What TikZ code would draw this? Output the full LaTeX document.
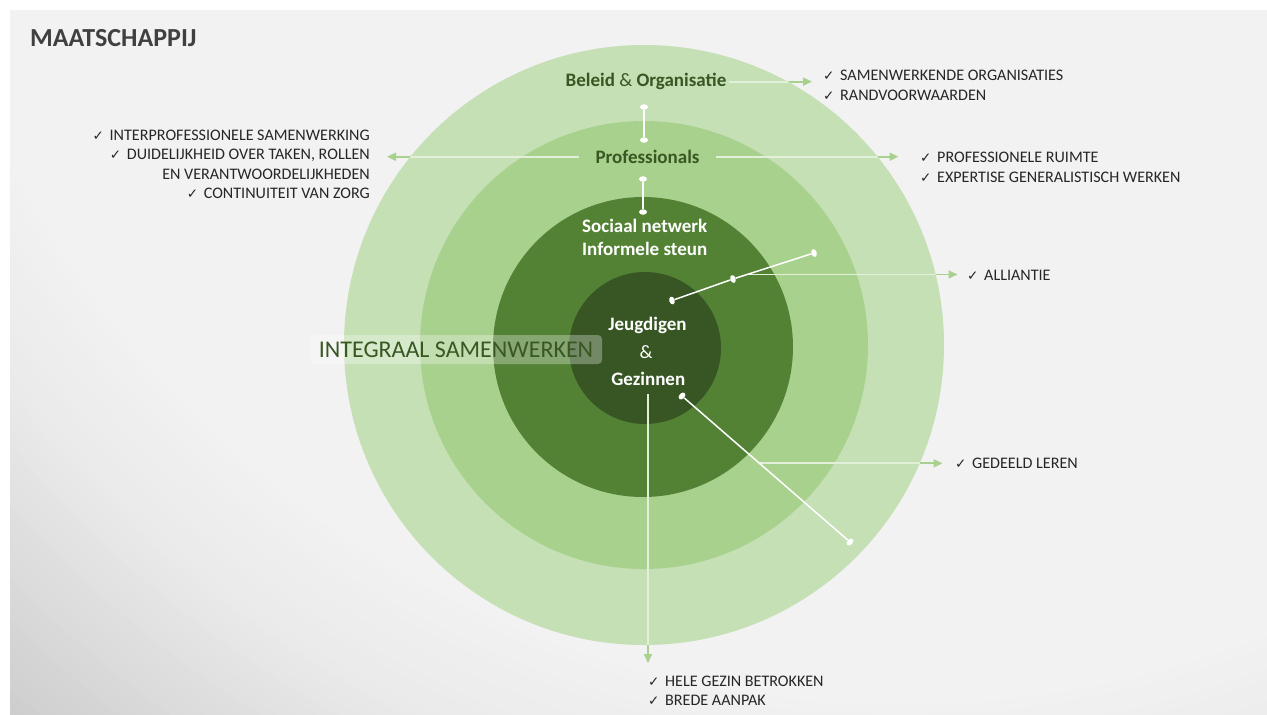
\documentclass[tikz,border=0pt]{standalone}
\usepackage{fontspec}
\setmainfont{Carlito}
\newfontfamily\symfont{DejaVu Sans}
\usetikzlibrary{arrows.meta,shapes.geometric}
\definecolor{bgA}{HTML}{F2F2F2}
\definecolor{bgB}{HTML}{EAEAEA}
\definecolor{bgC}{HTML}{CECECE}
\definecolor{ringA}{HTML}{C5E0B4}
\definecolor{ringB}{HTML}{A9D18E}
\definecolor{ringC}{HTML}{548235}
\definecolor{ringD}{HTML}{375623}
\definecolor{labgreen}{HTML}{385723}
\definecolor{titlegray}{HTML}{404040}
\definecolor{listtext}{HTML}{262626}
\definecolor{argreen}{HTML}{A9D18E}
\definecolor{arpale}{HTML}{E2F0D9}
\newcommand{\chk}{\makebox[17pt][l]{\symfont\bfseries\fontsize{13.5}{14}\selectfont ✓}}
\tikzset{
  listline/.style={inner sep=0pt, text=listtext, font=\fontsize{16.1}{19.5}\selectfont},
  lw/.style={listline, anchor=base west},
  le/.style={listline, anchor=base east},
  ringlabel/.style={inner sep=2pt, anchor=base, text=labgreen, font=\bfseries\fontsize{19}{23}\selectfont},
  corelabel/.style={inner sep=2pt, anchor=base, text=white, font=\bfseries\fontsize{19}{23}\selectfont},
  arr/.style={draw=argreen, line width=1.8pt, -{Triangle[length=9pt,width=8pt]}},
  arrin/.style={draw=arpale, line width=1.8pt},
  wline/.style={draw=white, line width=1.5pt},
  wdot/.style={ellipse, fill=white, inner sep=0pt, minimum width=8pt, minimum height=5.5pt},
}
\begin{document}
\begin{tikzpicture}[x=1pt,y=-1pt]
\useasboundingbox (0,0) rectangle (1267,715);
\fill[white] (0,0) rectangle (1267,715);
% slide background with darker bottom-left corner
\begin{scope}
  \clip (10,10) rectangle (1267,714);
  \fill[bgC] (10,10) rectangle (1267,714);
  \foreach \r in {1350,1340,...,1130} {
    \pgfmathsetmacro\p{(\r-1125)/225*100}
    \fill[bgC!\p!bgB] (900,-300) circle[radius=\r];
  }
  \foreach \r in {1125,1115,...,1005} {
    \pgfmathsetmacro\p{(\r-1000)/125*100}
    \fill[bgB!\p!bgA] (900,-300) circle[radius=\r];
  }
  \fill[bgA] (900,-300) circle[radius=1000];
\end{scope}
% rings
\fill[ringA] (644,345) circle[radius=300];
\fill[ringB] (644,345) circle[radius=224];
\fill[ringC] (643,347) circle[radius=150];
\fill[ringD] (645,348) circle[radius=76];
% integraal samenwerken
\node[fill=white, fill opacity=0.3, text opacity=1, rounded corners=4pt, text=labgreen,
      font=\fontsize{24}{28}\selectfont, minimum width=292pt, minimum height=29pt, inner sep=0pt]
      (int) at (456,349.5) {INTEGRAAL SAMENWERKEN};
% title
\node[anchor=base west, inner sep=0pt, text=titlegray, font=\bfseries\fontsize{26}{30}\selectfont]
      (title) at (30,46.7) {MAATSCHAPPIJ};
% ring labels
\node[ringlabel, inner xsep=2.5pt] (bel) at (646,86.7) {Beleid {\mdseries\&} Organisatie};
\node[ringlabel, inner xsep=16pt] (pro) at (647.5,163.3) {Professionals};
\node[corelabel] (soc) at (644.7,232) {Sociaal netwerk};
\node[corelabel] (inf) at (644.7,255.7) {Informele steun};
\node[corelabel] (jeu) at (647.5,330.7) {Jeugdigen};
\node[corelabel, font=\fontsize{19}{23}\selectfont] (amp) at (646,358) {\&};
\node[corelabel] (gez) at (648.3,385) {Gezinnen};
% check lists
\node[le] (lp1) at (370,140) {\chk INTERPROFESSIONELE SAMENWERKING};
\node[le] (lp2) at (370,159.5) {\chk DUIDELIJKHEID OVER TAKEN, ROLLEN};
\node[le] (lp3) at (370,179) {EN VERANTWOORDELIJKHEDEN};
\node[le] (lp4) at (370,198.5) {\chk CONTINUITEIT VAN ZORG};
\node[lw] (bo1) at (823,80.5) {\chk SAMENWERKENDE ORGANISATIES};
\node[lw] (bo2) at (823,100) {\chk RANDVOORWAARDEN};
\node[lw] (pr1) at (920,162.7) {\chk PROFESSIONELE RUIMTE};
\node[lw] (pr2) at (920,182) {\chk EXPERTISE GENERALISTISCH WERKEN};
\node[lw] (al) at (967,280.5) {\chk ALLIANTIE};
\node[lw] (gl) at (955,468) {\chk GEDEELD LEREN};
\node[lw] (hg1) at (648,686.5) {\chk HELE GEZIN BETROKKEN};
\node[lw] (hg2) at (648,705.7) {\chk BREDE AANPAK};
% arrow ends
\coordinate (tB) at (812,83.3);
\coordinate (tPL) at (387,158);
\coordinate (tPR) at (898.5,156.7);
\coordinate (sAl) at (748,274.5);
\coordinate (tAl) at (957.5,274.5);
\coordinate (sGl) at (760,463.3);
\coordinate (tGl) at (942.5,463.3);
\coordinate (sHg) at (648,394);
\coordinate (tHg) at (648,663);
% arrows
\draw[arr] (bel.east) -- (bel.east -| tB);
\draw[arr] (pro.west) -- (pro.west -| tPL);
\draw[arr] (pro.east) -- (pro.east -| tPR);
\draw[arr] (sAl) -- (tAl);
\draw[arr] (sGl) -- (tGl);
\draw[arr] (sHg) -- (tHg);
\begin{scope}
  \clip (644,345) circle[radius=300];
  \draw[arrin] (bel.east) -- (bel.east -| tB);
  \draw[arrin] (pro.west) -- (pro.west -| tPL);
  \draw[arrin] (pro.east) -- (pro.east -| tPR);
  \draw[arrin] (sAl) -- (tAl);
  \draw[arrin] (sGl) -- (tGl);
  \draw[arrin] (sHg) -- (tHg);
\end{scope}
% white dot connectors
\node[wdot] (a1) at (644,107) {};
\node[wdot] (a2) at (644,140) {};
\node[wdot] (b1) at (643,179) {};
\node[wdot] (b2) at (643,212) {};
\node[wdot, rotate=108] (c1) at (672,300.5) {};
\node[wdot, rotate=108] (c2) at (733,279) {};
\node[wdot, rotate=108] (c3) at (814,253) {};
\node[wdot, rotate=49] (d1) at (682,396) {};
\node[wdot, rotate=49] (d2) at (850,542) {};
\draw[wline] (a1) -- (a2);
\draw[wline] (b1) -- (b2);
\draw[wline] (c1) -- (c2) -- (c3);
\draw[wline] (d1) -- (d2);
\end{tikzpicture}
\end{document}
